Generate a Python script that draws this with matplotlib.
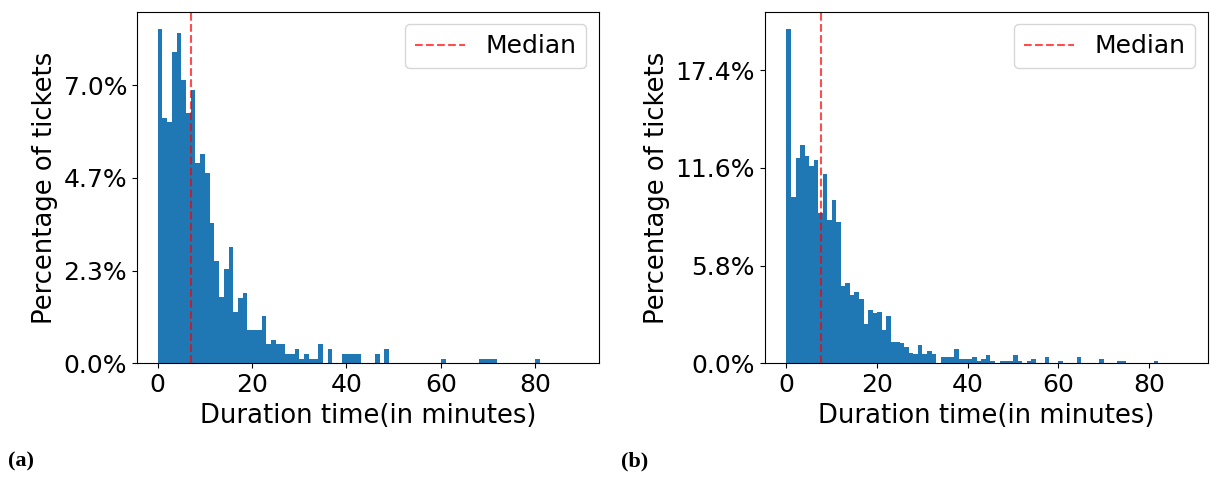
import matplotlib

matplotlib.use("Agg")
import matplotlib.pyplot as plt
import numpy as np
from matplotlib.ticker import PercentFormatter

# percentage of tickets per 1-minute bin, starting at 0 minutes
pct_a = [
    8.42, 6.18, 6.07, 7.83, 8.30, 7.12, 6.31, 6.88, 5.03, 5.27,
    4.80, 3.52, 2.58, 1.67, 2.36, 2.92, 1.30, 1.65, 1.77, 0.83,
    0.83, 0.83, 1.18, 0.48, 0.59, 0.48, 0.48, 0.24, 0.24, 0.36,
    0.12, 0.24, 0.12, 0.12, 0.48, 0.00, 0.36, 0.00, 0.00, 0.24,
    0.24, 0.24, 0.24, 0.00, 0.00, 0.00, 0.24, 0.00, 0.36, 0.00,
    0.00, 0.00, 0.00, 0.00, 0.00, 0.00, 0.00, 0.00, 0.00, 0.00,
    0.12, 0.00, 0.00, 0.00, 0.00, 0.00, 0.00, 0.00, 0.12, 0.12,
    0.12, 0.12, 0.00, 0.00, 0.00, 0.00, 0.00, 0.00, 0.00, 0.00,
    0.12, 0.00, 0.00, 0.00, 0.00, 0.00, 0.00, 0.00, 0.00,
]
pct_b = [
    19.86, 9.87, 12.19, 12.98, 12.31, 11.70, 12.09, 8.93, 11.25, 8.50,
    9.68, 8.40, 4.56, 4.76, 4.07, 4.21, 3.82, 2.36, 3.15, 2.99,
    3.05, 2.00, 2.79, 1.28, 1.28, 1.20, 0.94, 0.63, 0.53, 1.06,
    0.53, 0.73, 0.53, 0.00, 0.39, 0.39, 0.39, 0.83, 0.24, 0.24,
    0.24, 0.39, 0.16, 0.24, 0.49, 0.12, 0.00, 0.12, 0.12, 0.12,
    0.51, 0.12, 0.00, 0.12, 0.24, 0.00, 0.00, 0.39, 0.00, 0.00,
    0.12, 0.00, 0.00, 0.00, 0.39, 0.00, 0.00, 0.00, 0.00, 0.24,
    0.00, 0.00, 0.00, 0.12, 0.12, 0.00, 0.00, 0.00, 0.00, 0.00,
    0.00, 0.12, 0.00, 0.00, 0.00, 0.00, 0.00, 0.00, 0.00,
]
median_a = 7.0
median_b = 7.6
yticks_a = [0, 7 / 3, 14 / 3, 7.0]
yticks_b = [0, 5.8, 11.6, 17.4]
xticks = [0, 20, 40, 60, 80]

plt.rcParams["font.size"] = 18
plt.rcParams["axes.labelsize"] = 18.6

fig = plt.figure(figsize=(12.1, 4.78), dpi=100)
ax_a = fig.add_axes([0.113, 0.240, 0.382, 0.735])
ax_b = fig.add_axes([0.632, 0.240, 0.366, 0.735])


def draw(ax, pct, median, yticks, xlim):
    edges = np.arange(len(pct) + 1, dtype=float)
    ax.hist(edges[:-1], bins=edges, weights=pct, color="#1f77b4")
    ax.axvline(median, color="red", linestyle="--", alpha=0.7, lw=1.5, label="Median")
    ax.set_xlim(*xlim)
    ax.set_xticks(xticks)
    ax.set_yticks(yticks)
    ax.yaxis.set_major_formatter(PercentFormatter(decimals=1))
    ax.set_xlabel("Duration time(in minutes)")
    ax.set_ylabel("Percentage of tickets")
    ax.legend(loc="upper right")


draw(ax_a, pct_a, median_a, yticks_a, (-4.45, 93.5))
draw(ax_b, pct_b, median_b, yticks_b, (-4.8, 92.9))

fig.text(0.007, 0.025, "(a)", family="Liberation Serif", weight="bold", fontsize=16)
fig.text(0.513, 0.025, "(b)", family="Liberation Serif", weight="bold", fontsize=16)

fig.savefig("out.png", dpi=100)
